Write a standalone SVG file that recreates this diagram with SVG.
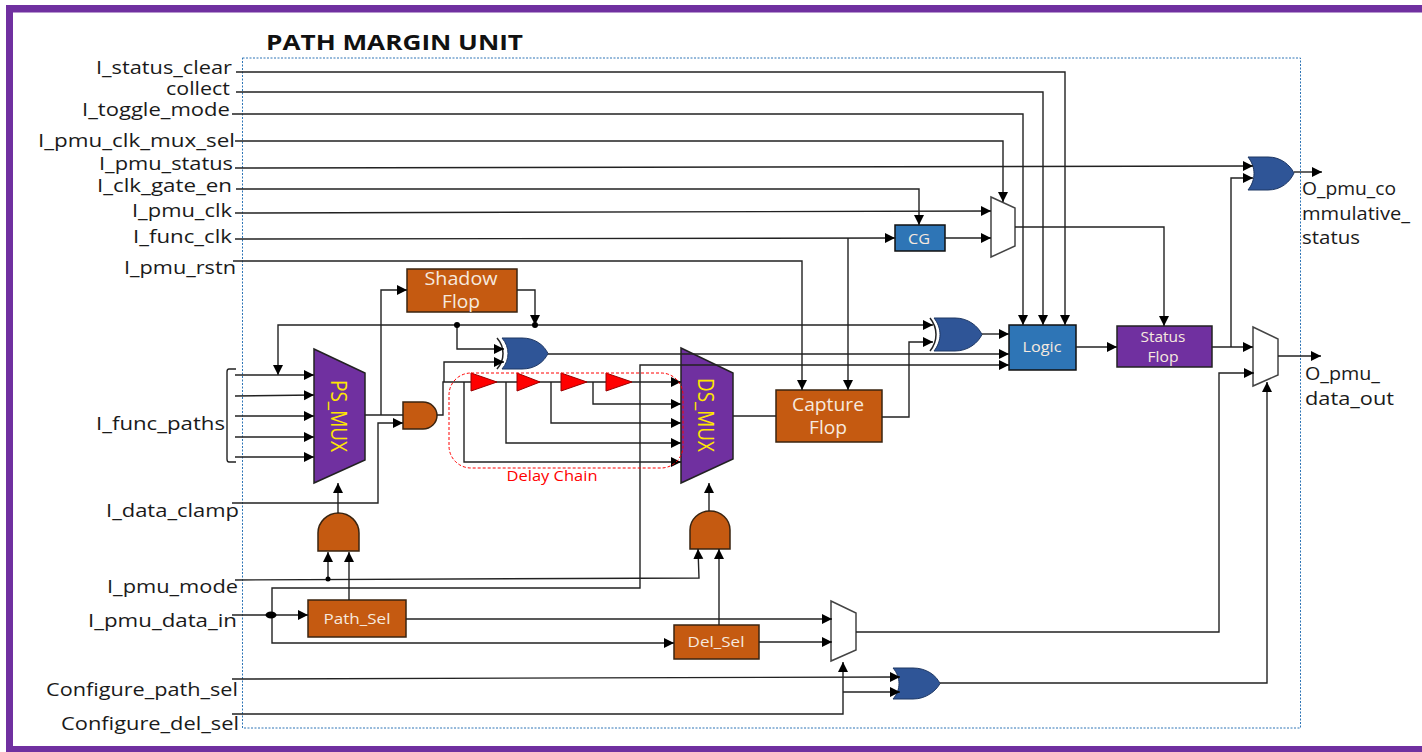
<svg xmlns="http://www.w3.org/2000/svg" width="1422" height="752" viewBox="0 0 1422 752">
<defs>
<marker id="a" markerUnits="userSpaceOnUse" markerWidth="11" markerHeight="11" refX="10" refY="5.500" orient="auto"><path d="M0 0.500L10 5.500L0 10.500z" fill="#000"/></marker>
</defs>
<style>
text{font-family:"Open Sans","Noto Sans","Liberation Sans",sans-serif}
.l{font-size:19px;fill:#1a1a1a;text-anchor:end}
.o{font-size:19px;fill:#1a1a1a}
.w{font-size:15px;fill:#f6e9df;text-anchor:middle}
.b{font-size:18px;fill:#f6e9df;text-anchor:middle}
.y{font-size:21px;fill:#ffe600;text-anchor:middle}
.c path{fill:none;stroke:#222;stroke-width:1.400}
.or{fill:#c55a11;stroke:#3a2410;stroke-width:1.500}
.bl{fill:#2e75b6;stroke:#111;stroke-width:1.500}
.pu{fill:#7030a0;stroke:#222;stroke-width:1.500}
.na{fill:#2f5597;stroke:#1f3864;stroke-width:1}
.mx{fill:#fff;stroke:#444;stroke-width:1.500}
.tr{fill:#f00;stroke:#900;stroke-width:1}
.arc{fill:none;stroke:#222;stroke-width:1.500}
</style>
<g id="frame" fill="#7030a0">
<rect x="6" y="5" width="1416" height="7.500"/>
<rect x="6" y="5" width="7" height="747"/>
<rect x="6" y="746" width="1416" height="6"/>
</g>
<rect x="242.500" y="58" width="1058" height="670" fill="none" stroke="#2e75b6" stroke-width="1" stroke-dasharray="2 1.500"/>
<text x="266" y="50" font-size="22" font-weight="700" fill="#111" textLength="257" lengthAdjust="spacingAndGlyphs">PATH MARGIN UNIT</text>
<g id="labels">
<text class="l" x="232" y="74" textLength="136" lengthAdjust="spacingAndGlyphs">I_status_clear</text>
<text class="l" x="230" y="95" textLength="64" lengthAdjust="spacingAndGlyphs">collect</text>
<text class="l" x="230" y="116" textLength="148" lengthAdjust="spacingAndGlyphs">I_toggle_mode</text>
<text class="l" x="235" y="147" textLength="197" lengthAdjust="spacingAndGlyphs">I_pmu_clk_mux_sel</text>
<text class="l" x="233" y="170" textLength="134" lengthAdjust="spacingAndGlyphs">I_pmu_status</text>
<text class="l" x="232" y="192" textLength="135" lengthAdjust="spacingAndGlyphs">I_clk_gate_en</text>
<text class="l" x="232" y="217" textLength="100" lengthAdjust="spacingAndGlyphs">I_pmu_clk</text>
<text class="l" x="232" y="243" textLength="99" lengthAdjust="spacingAndGlyphs">I_func_clk</text>
<text class="l" x="236" y="274" textLength="112" lengthAdjust="spacingAndGlyphs">I_pmu_rstn</text>
<text class="l" x="225" y="430" textLength="129" lengthAdjust="spacingAndGlyphs">I_func_paths</text>
<text class="l" x="239" y="517" textLength="133" lengthAdjust="spacingAndGlyphs">I_data_clamp</text>
<text class="l" x="238" y="593" textLength="131" lengthAdjust="spacingAndGlyphs">I_pmu_mode</text>
<text class="l" x="237" y="627" textLength="149" lengthAdjust="spacingAndGlyphs">I_pmu_data_in</text>
<text class="l" x="238" y="696" textLength="192" lengthAdjust="spacingAndGlyphs">Configure_path_sel</text>
<text class="l" x="239" y="730" textLength="178" lengthAdjust="spacingAndGlyphs">Configure_del_sel</text>
<text class="o" x="1302" y="195" textLength="94" lengthAdjust="spacingAndGlyphs">O_pmu_co</text>
<text class="o" x="1302" y="220" textLength="108" lengthAdjust="spacingAndGlyphs">mmulative_</text>
<text class="o" x="1302" y="244" textLength="58" lengthAdjust="spacingAndGlyphs">status</text>
<text class="o" x="1305" y="380" textLength="75" lengthAdjust="spacingAndGlyphs">O_pmu_</text>
<text class="o" x="1305" y="405" textLength="89" lengthAdjust="spacingAndGlyphs">data_out</text>
</g>
<g id="ps-mux"><polygon class="pu" points="314,349 365,373 365,460 314,483"/><text class="y" transform="translate(331 416) rotate(90)" textLength="72" lengthAdjust="spacingAndGlyphs">PS_MUX</text></g>
<g id="ds-mux"><polygon class="pu" points="681,348 733,373 733,459 681,483"/><text class="y" transform="translate(698 415) rotate(90)" textLength="74" lengthAdjust="spacingAndGlyphs">DS_MUX</text></g>
<g id="shadow-flop"><rect class="or" x="407" y="269" width="110" height="43"/><text class="b" x="461" y="285" textLength="73" lengthAdjust="spacingAndGlyphs">Shadow</text><text class="b" x="461" y="308" textLength="38" lengthAdjust="spacingAndGlyphs">Flop</text></g>
<g id="capture-flop"><rect class="or" x="776" y="390" width="106" height="52"/><text class="b" x="828" y="411" textLength="72" lengthAdjust="spacingAndGlyphs">Capture</text><text class="b" x="828" y="434" textLength="38" lengthAdjust="spacingAndGlyphs">Flop</text></g>
<g id="cg"><rect class="bl" x="895" y="225" width="50" height="26"/><text class="w" x="919" y="244" textLength="22" lengthAdjust="spacingAndGlyphs">CG</text></g>
<g id="logic"><rect class="bl" x="1009" y="325" width="67" height="45"/><text class="w" x="1042" y="352" textLength="39" lengthAdjust="spacingAndGlyphs">Logic</text></g>
<g id="status-flop"><rect class="pu" x="1117" y="326" width="95" height="41"/><text class="w" x="1163" y="342" textLength="45" lengthAdjust="spacingAndGlyphs">Status</text><text class="w" x="1163" y="362" textLength="31" lengthAdjust="spacingAndGlyphs">Flop</text></g>
<g id="path-sel"><rect class="or" x="308" y="600" width="98" height="37"/><text class="w" x="357" y="624" textLength="67" lengthAdjust="spacingAndGlyphs">Path_Sel</text></g>
<g id="del-sel"><rect class="or" x="674" y="625" width="85" height="34"/><text class="w" x="716" y="647" textLength="57" lengthAdjust="spacingAndGlyphs">Del_Sel</text></g>
<g id="clk-mux"><polygon class="mx" points="991,197 1015,208 1015,246 991,257"/></g>
<g id="out-mux"><polygon class="mx" points="1253,327 1278,339 1278,375 1253,386"/></g>
<g id="sel-mux"><polygon class="mx" points="831,601 856,613 856,650 831,661"/></g>
<g id="and-in"><path class="or" d="M403 402H423A14 13.500 0 0 1 423 429H403z"/></g>
<g id="and-ps"><path class="or" d="M318 551V533A20.500 20 0 0 1 359 533V551z"/></g>
<g id="and-ds"><path class="or" d="M690 549V530A20 19 0 0 1 730 530V549z"/></g>
<g id="xor-data"><path class="na" d="M502 338H522C535 338 544 345 548 353.500C544 362 535 369 522 369H502C510 360 510 347 502 338z"/><path class="arc" d="M497 338C505 347 505 360 497 369"/></g>
<g id="xor-cap"><path class="na" d="M934 318H955C968 318 978 326 982 334.500C978 343 968 351 955 351H934C942 341 942 328 934 318z"/><path class="arc" d="M930 318C938 328 938 341 930 351"/></g>
<g id="or-status"><path class="na" d="M1248 157H1268C1281 157 1290 165 1294 173C1290 182 1281 190 1268 190H1248C1256 180 1256 167 1248 157z"/></g>
<g id="or-config"><path class="na" d="M893 668H913C926 668 936 675 940 683.500C936 691 926 699 913 699H893C901 690 901 677 893 668z"/></g>
<g id="connectors" class="c">
<path d="M236 72H1065V325" marker-end="url(#a)"/>
<path d="M236 92H1043V325" marker-end="url(#a)"/>
<path d="M232 114H1023V325" marker-end="url(#a)"/>
<path d="M235 141H1003V202" marker-end="url(#a)"/>
<path d="M235 168L1253 166" marker-end="url(#a)"/>
<path d="M236 189H919V225" marker-end="url(#a)"/>
<path d="M235 213L991 211" marker-end="url(#a)"/>
<path d="M235 239L895 238" marker-end="url(#a)"/>
<path d="M848 238V390" marker-end="url(#a)"/>
<path d="M233 261H802V390" marker-end="url(#a)"/>
<path d="M945 238H991" marker-end="url(#a)"/>
<path d="M1015 227H1164V326" marker-end="url(#a)"/>
<path d="M517 290H535V325" marker-end="url(#a)"/>
<path d="M457 325H933" marker-end="url(#a)"/>
<path d="M457 325H278V375" marker-end="url(#a)"/>
<path d="M457 325V349H504" marker-end="url(#a)"/>
<path d="M444 382V362H504" marker-end="url(#a)"/>
<path d="M235 375H314" marker-end="url(#a)"/>
<path d="M235 396L314 395" marker-end="url(#a)"/>
<path d="M235 416H314" marker-end="url(#a)"/>
<path d="M235 437H314" marker-end="url(#a)"/>
<path d="M235 457H314" marker-end="url(#a)"/>
<path d="M365 415H403"/>
<path d="M381 415V290H407" marker-end="url(#a)"/>
<path d="M232 503H378V423H403" marker-end="url(#a)"/>
<path d="M437 415H443V382H681" marker-end="url(#a)"/>
<path d="M593 382V404H681" marker-end="url(#a)"/>
<path d="M551 382V423H681" marker-end="url(#a)"/>
<path d="M506 382V443H681" marker-end="url(#a)"/>
<path d="M464 382V462H681" marker-end="url(#a)"/>
<path d="M733 416H776"/>
<path d="M882 417H909V342H933" marker-end="url(#a)"/>
<path d="M982 334H1009" marker-end="url(#a)"/>
<path d="M548 354H1009" marker-end="url(#a)"/>
<path d="M272 615V588H640V365H1009" marker-end="url(#a)"/>
<path d="M1076 347H1117" marker-end="url(#a)"/>
<path d="M1212 347H1253" marker-end="url(#a)"/>
<path d="M1231 347V178H1253" marker-end="url(#a)"/>
<path d="M1294 172H1322" marker-end="url(#a)"/>
<path d="M1278 356H1321" marker-end="url(#a)"/>
<path d="M235 580L699 578L698 549" marker-end="url(#a)"/>
<path d="M328 579V552" marker-end="url(#a)"/>
<path d="M349 600V552" marker-end="url(#a)"/>
<path d="M719 625V549" marker-end="url(#a)"/>
<path d="M338 513V483" marker-end="url(#a)"/>
<path d="M709 511V483" marker-end="url(#a)"/>
<path d="M232 615H308" marker-end="url(#a)"/>
<path d="M272 615V643H674" marker-end="url(#a)"/>
<path d="M406 619H832" marker-end="url(#a)"/>
<path d="M759 642H832" marker-end="url(#a)"/>
<path d="M856 632H1219V373H1254" marker-end="url(#a)"/>
<path d="M232 714H843V662" marker-end="url(#a)"/>
<path d="M843 692H900" marker-end="url(#a)"/>
<path d="M232 679L900 677" marker-end="url(#a)"/>
<path d="M940 683H1267V382" marker-end="url(#a)"/>
<path d="M236 369H229Q227 369 227 372V459Q227 462 229 462H236"/>
</g>
<g id="dots" fill="#000">
<circle cx="457" cy="325" r="3"/><circle cx="535" cy="325" r="3"/><circle cx="328" cy="579" r="2.500"/><ellipse cx="271" cy="615" rx="5.500" ry="3.500"/>
</g>
<g id="delay-1"><polygon class="tr" points="471,373 497,382 471,391"/></g>
<g id="delay-2"><polygon class="tr" points="517,373 540,382 517,391"/></g>
<g id="delay-3"><polygon class="tr" points="561,373 587,382 561,391"/></g>
<g id="delay-4"><polygon class="tr" points="606,373 632,382 606,391"/></g>
<g id="delay-chain"><rect x="449" y="373" width="234" height="95" rx="22" fill="none" stroke="#f00" stroke-width="1" stroke-dasharray="3 2"/><text x="552" y="481" font-size="15" fill="#f00" text-anchor="middle" textLength="91" lengthAdjust="spacingAndGlyphs">Delay Chain</text></g>
</svg>
